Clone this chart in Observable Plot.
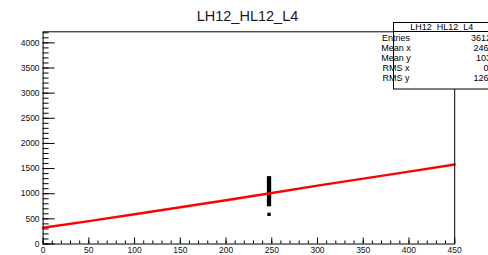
<!DOCTYPE html>
<html><head><meta charset="utf-8">
<script src="https://cdn.jsdelivr.net/npm/d3@7"></script>
<script src="https://cdn.jsdelivr.net/npm/@observablehq/plot@0.6"></script>
<style>body{margin:0;background:#fff;} svg{display:block;}</style>
</head><body><div id="chart"></div>
<script>
const title = "LH12_HL12_L4";
// red band (x, y)
const redX = [0, 50, 100, 150, 200, 250, 300, 350, 400, 450];
const redY = [322, 455, 592, 730, 870, 1015, 1160, 1300, 1440, 1580];
// black vertical cluster
const blackX = [247];
const blackY1 = [740];
const blackY2 = [1340];
const blackDotX = [247];
const blackDotY = [590];
// ticks
const xMajor = [0, 50, 100, 150, 200, 250, 300, 350, 400, 450];
const xMinor = [0,10,20,30,40,50,60,70,80,90,100,110,120,130,140,150,160,170,180,190,200,210,220,230,240,250,260,270,280,290,300,310,320,330,340,350,360,370,380,390,400,410,420,430,440,450];
const yMajor = [0, 500, 1000, 1500, 2000, 2500, 3000, 3500, 4000];
const yMinor = [0,100,200,300,400,500,600,700,800,900,1000,1100,1200,1300,1400,1500,1600,1700,1800,1900,2000,2100,2200,2300,2400,2500,2600,2700,2800,2900,3000,3100,3200,3300,3400,3500,3600,3700,3800,3900,4000,4100,4200];
// stats box
const statsTitle = "LH12_HL12_L4";
const statsLabels = ["Entries", "Mean x", "Mean y", "RMS x", "RMS y"];
const statsValues = ["36120", "246.5", "1031", "0.5", "126.4"];

const red = redX.map((x, i) => ({x, y: redY[i]}));
const black = blackX.map((x, i) => ({x, y1: blackY1[i], y2: blackY2[i]}));
const blackDots = blackDotX.map((x, i) => ({x, y: blackDotY[i]}));

const font = "'Liberation Sans', Arial, Helvetica, sans-serif";
const plot = Plot.plot({
  width: 488, height: 255,
  marginLeft: 42.6, marginRight: 33.8, marginTop: 31.3, marginBottom: 11.5,
  style: {fontFamily: font, fontSize: "8.5px", color: "#111", background: "white"},
  x: {domain: [0, 450]},
  y: {domain: [0, 4220]},
  marks: [
    Plot.axisX(xMinor, {tickSize: -3, text: null, label: null, stroke: "black"}),
    Plot.axisX(xMajor, {tickSize: -6, text: null, label: null, stroke: "black"}),
    Plot.axisX(xMajor, {tickSize: 0, tickPadding: 2.5, label: null, tickFormat: d3.format("d")}),
    Plot.axisY(yMinor, {tickSize: -6, text: null, label: null, stroke: "black"}),
    Plot.axisY(yMajor, {tickSize: -12, text: null, label: null, stroke: "black"}),
    Plot.axisY(yMajor, {tickSize: 0, tickPadding: 3.5, label: null, tickFormat: d3.format("d")}),
    Plot.ruleX(black, {x: "x", y1: "y1", y2: "y2", stroke: "black", strokeWidth: 4.3}),
    Plot.dot(blackDots, {x: "x", y: "y", symbol: "square", r: 1.9, fill: "black"}),
    Plot.line(red, {x: "x", y: "y", stroke: "#ff0000", strokeWidth: 2.4}),
    Plot.frame({stroke: "black"})
  ]
});
document.getElementById("chart").appendChild(plot);

const svg = d3.select(plot);
svg.append("text").attr("x", 247.5).attr("y", 21).attr("text-anchor", "middle")
  .attr("font-family", font).attr("font-size", 14.5).attr("fill", "#1a1a1a").text(title);

const g = svg.append("g").attr("font-family", font).attr("font-size", 9).attr("fill", "black");
g.append("rect").attr("x", 393.5).attr("y", 22.5).attr("width", 100).attr("height", 66.5)
  .attr("fill", "white").attr("stroke", "black");
g.append("line").attr("x1", 393.5).attr("x2", 494).attr("y1", 31.5).attr("y2", 31.5).attr("stroke", "black");
g.append("text").attr("x", 441.7).attr("y", 27.5).attr("text-anchor", "middle").attr("dominant-baseline", "middle").text(statsTitle);
statsLabels.forEach((l, i) => {
  const y = 39 + i * 9.8;
  g.append("text").attr("x", 396).attr("y", y).attr("dominant-baseline", "middle").text(l);
  g.append("text").attr("x", 496).attr("y", y).attr("text-anchor", "end").attr("dominant-baseline", "middle").text(statsValues[i]);
});
</script>
</body></html>
